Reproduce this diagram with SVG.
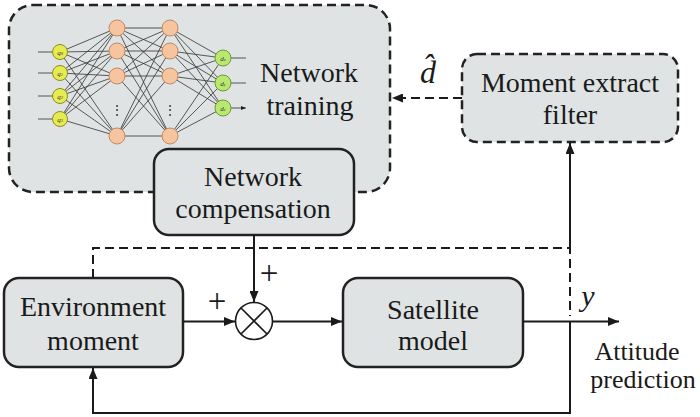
<svg xmlns="http://www.w3.org/2000/svg" width="700" height="417" viewBox="0 0 700 417">
<defs>
<style>
.box{fill:#dfe3e3;stroke:#222;stroke-width:2.5}
.dbox{fill:#dfe3e3;stroke:#222;stroke-width:2.5;stroke-dasharray:9 5}
.s{font-family:"Liberation Serif","Tinos","Times New Roman","DejaVu Serif","Noto Serif",serif;fill:#1a1a1a}
.t{font-size:28px;text-anchor:middle}
.ti{font-style:italic}
.ln{fill:none;stroke:#1a1a1a;stroke-width:2}
.dl{fill:none;stroke:#1a1a1a;stroke-width:2;stroke-dasharray:9 5}
.nn{fill:none;stroke:#333;stroke-width:0.8}
.ny{fill:#e6eb4f;stroke:#8c8c2a;stroke-width:1}
.no{fill:#f6c49e;stroke:#c08a66;stroke-width:1}
.ng{fill:#b9e870;stroke:#6b9b38;stroke-width:1}
.nl{font-style:italic;font-size:7px;fill:#333;text-anchor:middle}
</style>
<marker id="ar" markerUnits="userSpaceOnUse" markerWidth="11" markerHeight="9" refX="11" refY="4.5" orient="auto">
<path d="M0,0 L11,4.5 L0,9 z" fill="#1a1a1a"/>
</marker>
<marker id="sa" markerUnits="userSpaceOnUse" markerWidth="5" markerHeight="4" refX="5" refY="2" orient="auto">
<path d="M0,0 L5,2 L0,4 z" fill="#222"/>
</marker>
</defs>

<g id="network-training">
<rect class="dbox" x="9" y="5" width="381" height="187" rx="24" ry="24"/>
<g id="neural-net">
<path class="nn" d="M38 52H52M38 73H52M38 96H52M38 119H52M230 58H246M230 83H246M230 108H246" marker-end="url(#sa)"/>
<path class="nn" d="M60 52L117 28M60 52L117 51M60 52L117 76M60 52L117 136M60 73L117 28M60 73L117 51M60 73L117 76M60 73L117 136M60 96L117 28M60 96L117 51M60 96L117 76M60 96L117 136M60 119L117 28M60 119L117 51M60 119L117 76M60 119L117 136"/>
<path class="nn" d="M117 28L170 28M117 28L170 51M117 28L170 76M117 28L170 136M117 51L170 28M117 51L170 51M117 51L170 76M117 51L170 136M117 76L170 28M117 76L170 51M117 76L170 76M117 76L170 136M117 136L170 28M117 136L170 51M117 136L170 76M117 136L170 136"/>
<path class="nn" d="M170 28L223 58M170 28L223 83M170 28L223 108M170 51L223 58M170 51L223 83M170 51L223 108M170 76L223 58M170 76L223 83M170 76L223 108M170 136L223 58M170 136L223 83M170 136L223 108"/>
<circle class="ny" cx="60" cy="52" r="7.5"/><circle class="ny" cx="60" cy="73" r="7.5"/><circle class="ny" cx="60" cy="96" r="7.5"/><circle class="ny" cx="60" cy="119" r="7.5"/>
<circle class="no" cx="117" cy="28" r="8"/><circle class="no" cx="117" cy="51" r="8"/><circle class="no" cx="117" cy="76" r="8"/><circle class="no" cx="117" cy="136" r="8"/>
<circle class="no" cx="170" cy="28" r="8"/><circle class="no" cx="170" cy="51" r="8"/><circle class="no" cx="170" cy="76" r="8"/><circle class="no" cx="170" cy="136" r="8"/>
<circle class="ng" cx="223" cy="58" r="8"/><circle class="ng" cx="223" cy="83" r="8"/><circle class="ng" cx="223" cy="108" r="8"/>
<text class="s nl" x="60" y="54.5">q<tspan font-size="4.5">0</tspan></text>
<text class="s nl" x="60" y="75.5">q<tspan font-size="4.5">1</tspan></text>
<text class="s nl" x="60" y="98.5">q<tspan font-size="4.5">2</tspan></text>
<text class="s nl" x="60" y="121.5">q<tspan font-size="4.5">3</tspan></text>
<text class="s nl" x="223" y="60.5">d<tspan font-size="4.5">x</tspan></text>
<text class="s nl" x="223" y="85.5">d<tspan font-size="4.5">y</tspan></text>
<text class="s nl" x="223" y="110.5">d<tspan font-size="4.5">z</tspan></text>
<text class="s" x="117" y="114" font-size="12" fill="#444" text-anchor="middle">⋮</text>
<text class="s" x="170" y="114" font-size="12" fill="#444" text-anchor="middle">⋮</text>
</g>
<text class="s t" x="309" y="82">Network</text>
<text class="s t" x="310" y="115">training</text>
</g>

<g id="network-compensation">
<rect class="box" x="154" y="149" width="200" height="86" rx="15" ry="15"/>
<text class="s t" x="253" y="186">Network</text>
<text class="s t" x="253" y="218">compensation</text>
</g>

<g id="moment-extract-filter">
<rect class="dbox" x="462" y="54" width="216" height="88" rx="15" ry="15"/>
<text class="s t" x="570" y="92">Moment extract</text>
<text class="s t" x="570" y="124">filter</text>
</g>

<g id="environment-moment">
<rect class="box" x="4" y="278" width="179" height="89" rx="15" ry="15"/>
<text class="s t" x="93" y="316">Environment</text>
<text class="s t" x="93" y="350">moment</text>
</g>

<g id="sum">
<circle cx="254" cy="321" r="18.5" fill="#fff" stroke="#1a1a1a" stroke-width="1.6"/>
<path d="M241 308L267 334M267 308L241 334" stroke="#1a1a1a" stroke-width="1.6"/>
</g>

<g id="satellite-model">
<rect class="box" x="343" y="278" width="180" height="89" rx="15" ry="15"/>
<text class="s t" x="433" y="319">Satellite</text>
<text class="s t" x="433" y="350">model</text>
</g>

<g id="connectors">
<path class="dl" d="M462 98H392" marker-end="url(#ar)"/>
<path class="dl" d="M93 278V248H570V316"/>
<path class="ln" d="M570 248V143" marker-end="url(#ar)"/>
<path class="ln" d="M570 321V413H93V368" marker-end="url(#ar)"/>
<path class="ln" d="M254 235V302" marker-end="url(#ar)"/>
<path class="ln" d="M183 321.5H235" marker-end="url(#ar)"/>
<path class="ln" d="M273 321.5H342" marker-end="url(#ar)"/>
<path class="ln" d="M523 321.5H619" marker-end="url(#ar)"/>
</g>

<g id="labels">
<text class="s ti" x="428" y="83" font-size="32" text-anchor="middle">d&#x302;</text>
<text class="s ti" x="588" y="306" font-size="30" text-anchor="middle">y</text>
<text class="s" x="217" y="312" font-size="33" text-anchor="middle">+</text>
<text class="s" x="269" y="284" font-size="33" text-anchor="middle">+</text>
<text class="s" x="637" y="360" font-size="26" text-anchor="middle">Attitude</text>
<text class="s" x="643" y="388" font-size="26" text-anchor="middle">prediction</text>
</g>
</svg>
